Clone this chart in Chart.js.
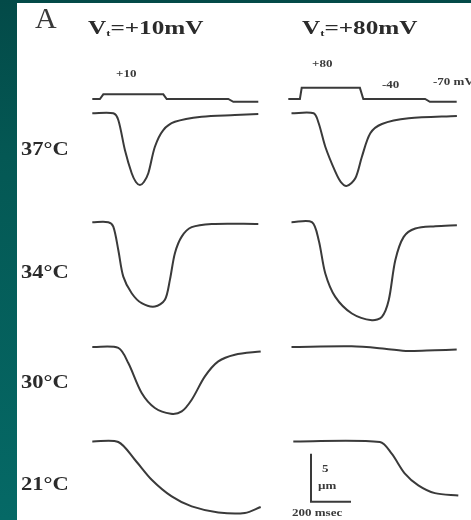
<!DOCTYPE html>
<html>
<head>
<meta charset="utf-8">
<script src="https://cdn.jsdelivr.net/npm/chart.js@4"></script>
<style>
html, body { margin: 0; padding: 0; }
body {
  width: 471px; height: 520px; position: relative; overflow: hidden;
  background: linear-gradient(180deg, #034a48 0%, #045854 30%, #056966 100%);
}
#panel { position: absolute; left: 17px; top: 3px; right: 0; bottom: 0; background: #fff; }
#plot { position: absolute; left: 0; top: 0; }
.lbl {
  position: absolute; font-family: "Liberation Serif", "DejaVu Serif", serif;
  color: #2b2b2b; white-space: nowrap; line-height: 1; transform-origin: 0 0;
}
.big { font-size: 30px; color: #3a3a3a; }
.hdr { font-size: 18px; font-weight: bold; transform: scaleX(1.4); }
.hdr sub { font-size: 9px; vertical-align: -2px; }
.row { font-size: 18px; font-weight: bold; transform: scaleX(1.25); }
.sm { font-size: 10px; font-weight: bold; transform: scaleX(1.3); color: #3a3a3a; }
</style>
</head>
<body>
<div id="panel"></div>
<canvas id="plot" width="471" height="520"></canvas>

<div class="lbl big" style="left:35px;top:3px;">A</div>
<div class="lbl hdr" style="left:88px;top:19px;">V<sub>t</sub>=+10mV</div>
<div class="lbl hdr" style="left:302px;top:19px;">V<sub>t</sub>=+80mV</div>

<div class="lbl sm" style="left:116px;top:69px;">+10</div>
<div class="lbl sm" style="left:312px;top:59px;">+80</div>
<div class="lbl sm" style="left:382px;top:80px;">-40</div>
<div class="lbl sm" style="left:433px;top:77px;">-70 mV</div>

<div class="lbl row" style="left:21px;top:140px;">37°C</div>
<div class="lbl row" style="left:21px;top:263px;">34°C</div>
<div class="lbl row" style="left:21px;top:373px;">30°C</div>
<div class="lbl row" style="left:21px;top:475px;">21°C</div>

<div class="lbl sm" style="left:322px;top:464px;">5</div>
<div class="lbl sm" style="left:318px;top:481px;">µm</div>
<div class="lbl sm" style="left:292px;top:508px;">200 msec</div>

<script>
// ---------------- data (time in ms from trace start, length change in µm) ----------------
var temps = ["37°C", "34°C", "30°C", "21°C"];
var testVoltages = ["+10mV", "+80mV"];

// Vt = +10 mV column
var ms_37_10 = [0, 105, 130, 163, 197, 218, 238, 258, 280, 313, 355, 413, 547, 713, 830];
var um_37_10 = [0, 0, -0.70, -3.82, -6.25, -7.16, -7.47, -7.16, -6.25, -3.48, -1.74, -0.88, -0.35, -0.18, -0.07];

var ms_34_10 = [0, 80, 105, 130, 155, 197, 247, 313, 363, 388, 413, 447, 497, 597, 830];
var um_34_10 = [0, 0, -0.46, -2.89, -5.67, -7.40, -8.44, -8.79, -8.09, -6.01, -3.23, -1.50, -0.52, -0.18, -0.18];

var ms_30_10 = [0, 130, 180, 247, 313, 393, 447, 497, 563, 630, 713, 842];
var um_30_10 = [0, -0.10, -1.67, -4.79, -6.35, -6.95, -6.71, -5.49, -3.06, -1.50, -0.80, -0.46];

var ms_21_10 = [0, 130, 213, 297, 397, 497, 630, 763, 842];
var um_21_10 = [0, -0.06, -1.91, -3.99, -5.73, -6.77, -7.40, -7.46, -6.83];

// Vt = +80 mV column
var ms_37_80 = [0, 111, 136, 169, 219, 247, 277, 319, 352, 394, 452, 586, 827];
var um_37_80 = [0, 0, -1.04, -3.48, -6.08, -7.16, -7.56, -6.77, -4.52, -2.08, -1.11, -0.52, -0.28];

var ms_34_80 = [0, 102, 136, 169, 219, 302, 402, 452, 486, 519, 561, 619, 719, 827];
var um_34_80 = [0, 0, -1.88, -5.34, -7.78, -9.51, -10.21, -9.86, -8.13, -3.96, -1.53, -0.66, -0.42, -0.31];

var ms_30_80 = [0, 301, 467, 584, 717, 826];
var um_30_80 = [0, 0.07, -0.17, -0.42, -0.34, -0.27];

var ms_21_80 = [9, 442, 501, 567, 634, 717, 834];
var um_21_80 = [0, -0.07, -1.28, -3.36, -4.58, -5.39, -5.63];

// voltage protocols (mV)
var ms_step_10 = [0, 38, 55, 355, 372, 680, 705, 830];
var mv_step_10 = [-40, -40, 10, 10, -40, -40, -70, -70];
var ms_step_80 = [-16, 42, 51, 342, 359, 668, 692, 826];
var mv_step_80 = [-40, -40, 80, 80, -40, -40, -70, -70];

// scale bar
var barMs = 200;
var barUm = 5;

// ---------------- layout ----------------
var W = 471, H = 520;
var PX_PER_MS = 0.2;      // 200 msec bar = 40 px
var PX_PER_UM = 9.6;      // 5 µm bar = 48 px
var PX_PER_MV = 0.093;
var colStart = [92.3 / PX_PER_MS, 291.5 / PX_PER_MS];          // ms
var rowBase = [113.3, 222.2, 347, 441.4].map(function (p) { return -p / PX_PER_UM; });
var vBase = 99;           // px of the -40 mV holding level
var barX = 311 / PX_PER_MS, barY = -501.7 / PX_PER_UM;

var traces = [
  [ms_37_10, um_37_10, ms_37_80, um_37_80],
  [ms_34_10, um_34_10, ms_34_80, um_34_80],
  [ms_30_10, um_30_10, ms_30_80, um_30_80],
  [ms_21_10, um_21_10, ms_21_80, um_21_80]
];

function pts(ms, vals, t0, y0) {
  return ms.map(function (t, i) { return { x: t0 + t, y: y0 + vals[i] }; });
}

var lineColor = "#3a3a3a";
var datasets = [];
traces.forEach(function (row, r) {
  for (var c = 0; c < 2; c++) {
    datasets.push({
      label: temps[r] + " " + testVoltages[c],
      data: pts(row[c * 2], row[c * 2 + 1], colStart[c], rowBase[r]),
      yAxisID: "y",
      tension: 0.3
    });
  }
});

[[ms_step_10, mv_step_10], [ms_step_80, mv_step_80]].forEach(function (s, c) {
  datasets.push({
    label: "Vt " + testVoltages[c],
    data: s[0].map(function (t, i) { return { x: colStart[c] + t, y: s[1][i] }; }),
    yAxisID: "yv",
    tension: 0
  });
});

datasets.push({
  label: "scale bar",
  data: [{ x: barX, y: barY + barUm }, { x: barX, y: barY }, { x: barX + barMs, y: barY }],
  yAxisID: "y",
  tension: 0,
  borderWidth: 2
});

new Chart(document.getElementById("plot"), {
  type: "line",
  data: { datasets: datasets },
  options: {
    responsive: false,
    animation: false,
    layout: { padding: 0 },
    elements: {
      point: { radius: 0 },
      line: { borderColor: lineColor, borderWidth: 2, fill: false, capBezierPoints: true }
    },
    plugins: { legend: { display: false }, tooltip: { enabled: false } },
    scales: {
      x: { type: "linear", display: false, min: 0, max: W / PX_PER_MS },
      y: { display: false, min: -H / PX_PER_UM, max: 0 },
      yv: { display: false, min: -40 - (H - vBase) / PX_PER_MV, max: -40 + vBase / PX_PER_MV }
    }
  }
});
</script>
</body>
</html>
